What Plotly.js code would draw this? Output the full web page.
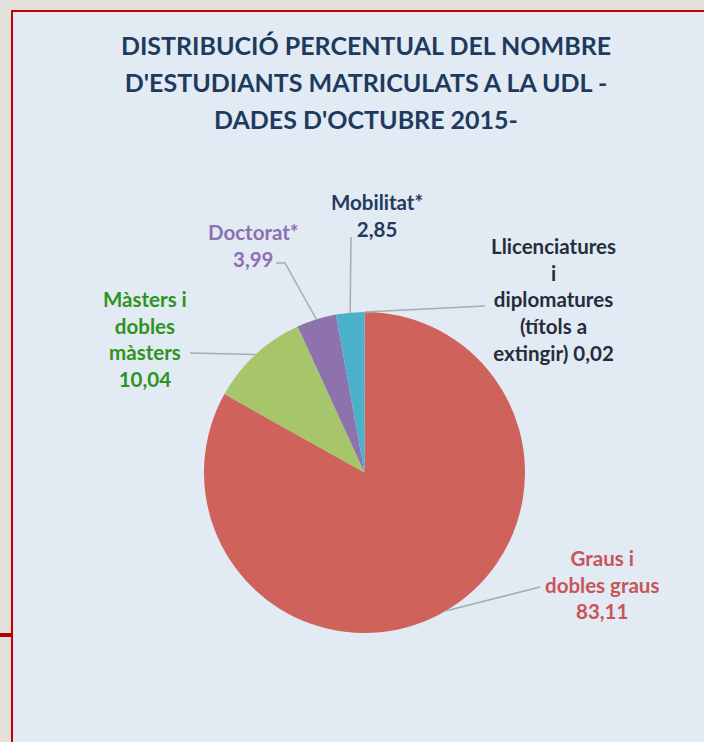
<!DOCTYPE html>
<html>
<head>
<meta charset="utf-8">
<script src="https://cdn.plot.ly/plotly-3.0.1.min.js"></script>
<style>
  html, body { margin: 0; padding: 0; background: #e4e1dd; }
  #chart { width: 704px; height: 742px; }
</style>
</head>
<body>
<div id="chart"></div>
<script>
// ---- data ----
const categories = [
  'Llicenciatures i diplomatures (títols a extingir)',
  'Graus i dobles graus',
  'Màsters i dobles màsters',
  'Doctorat*',
  'Mobilitat*'
];
const values = [0.02, 83.11, 10.04, 3.99, 2.85];
// label lines as printed (value appended)
const labelLines = [
  ['Llicenciatures', 'i', 'diplomatures', '(títols a', 'extingir)'],
  ['Graus i', 'dobles graus'],
  ['Màsters i', 'dobles', 'màsters'],
  ['Doctorat*'],
  ['Mobilitat*']
];
const valueOnSameLine = [true, false, false, false, false];
const titleLines = [
  'DISTRIBUCIÓ PERCENTUAL DEL NOMBRE',
  "D'ESTUDIANTS MATRICULATS A LA UDL -",
  "DADES D'OCTUBRE 2015-"
];

// ---- styles / layout ----
const W = 704, H = 742;
const sliceColors = ['#5b6f8c', '#cf625a', '#a7c56a', '#8e72ae', '#4bb0c9'];
const textColors  = ['#252d3d', '#c9545a', '#2f9322', '#8d70b2', '#243a5f'];
const pieDomainX = [204 / W, 525 / W];
const pieDomainY = [109 / H, 430 / H];
// label centres (pixels) and leader-line end points (pixels)
const labelPos = [[553, 300], [602, 584], [145, 339], [253, 245], [377, 216]];
const leaderEnd = [[[485, 306]], [[540, 587]], [[190, 353]], [[285, 263], [276, 263]], [[351, 237]]];

const px = x => x / W;
const py = y => 1 - y / H;
const fmt = v => v.toFixed(2).replace('.', ',');

// pie geometry from the domain
const cx = (pieDomainX[0] + pieDomainX[1]) / 2 * W;
const cy = (1 - (pieDomainY[0] + pieDomainY[1]) / 2) * H;
const R = Math.min((pieDomainX[1] - pieDomainX[0]) * W, (pieDomainY[1] - pieDomainY[0]) * H) / 2;
const total = values.reduce((a, b) => a + b, 0);

const shapes = [
  // outer panel
  { type: 'rect', xref: 'paper', yref: 'paper', x0: px(12), x1: 1.05, y0: -0.05, y1: py(11),
    fillcolor: '#e2eaf3', line: { color: '#c00000', width: 2 }, layer: 'below' },
  { type: 'rect', xref: 'paper', yref: 'paper', x0: 0, x1: px(12), y0: py(637), y1: py(633),
    fillcolor: '#b40000', line: { width: 0 }, layer: 'below' }
];
const annotations = [];

let cum = 0;
values.forEach((v, i) => {
  const mid = (cum + v / 2) / total * 2 * Math.PI;
  cum += v;
  const ex = cx + R * Math.sin(mid);
  const ey = cy - R * Math.cos(mid);
  let path = `M ${px(ex)} ${py(ey)}`;
  leaderEnd[i].forEach(p => { path += ` L ${px(p[0])} ${py(p[1])}`; });
  shapes.push({ type: 'path', xref: 'paper', yref: 'paper', path: path,
    line: { color: '#a9acb0', width: 1.5 } });

  const lines = labelLines[i].slice();
  if (valueOnSameLine[i]) lines[lines.length - 1] += ' ' + fmt(v);
  else lines.push(fmt(v));
  annotations.push({
    xref: 'paper', yref: 'paper', x: px(labelPos[i][0]), y: py(labelPos[i][1]),
    xanchor: 'center', yanchor: 'middle', showarrow: false, align: 'center',
    text: lines.join('<br>'),
    font: { family: 'Lato, "Open Sans", sans-serif', size: 20.5, color: textColors[i], weight: 700 }
  });
});

const data = [{
  type: 'pie',
  labels: categories,
  values: values,
  sort: false,
  direction: 'clockwise',
  rotation: 0,
  textinfo: 'none',
  hoverinfo: 'label+value',
  marker: { colors: sliceColors, line: { width: 0 } },
  domain: { x: pieDomainX, y: pieDomainY },
  showlegend: false
}];

const layout = {
  width: W, height: H,
  margin: { l: 0, r: 0, t: 0, b: 0 },
  paper_bgcolor: '#e4e1dd',
  plot_bgcolor: 'rgba(0,0,0,0)',
  showlegend: false,
  title: {
    text: titleLines.map(l => `<span style="font-size:25px">${l}</span>`).join('<br>'),
    x: 366 / W, xanchor: 'center', xref: 'paper',
    y: py(55), yanchor: 'top', yref: 'paper',
    font: { family: 'Lato, "Open Sans", sans-serif', size: 28.5, color: '#1f3a5f', weight: 700 }
  },
  shapes: shapes,
  annotations: annotations
};

Plotly.newPlot('chart', data, layout, { displayModeBar: false, staticPlot: true });
</script>
</body>
</html>
